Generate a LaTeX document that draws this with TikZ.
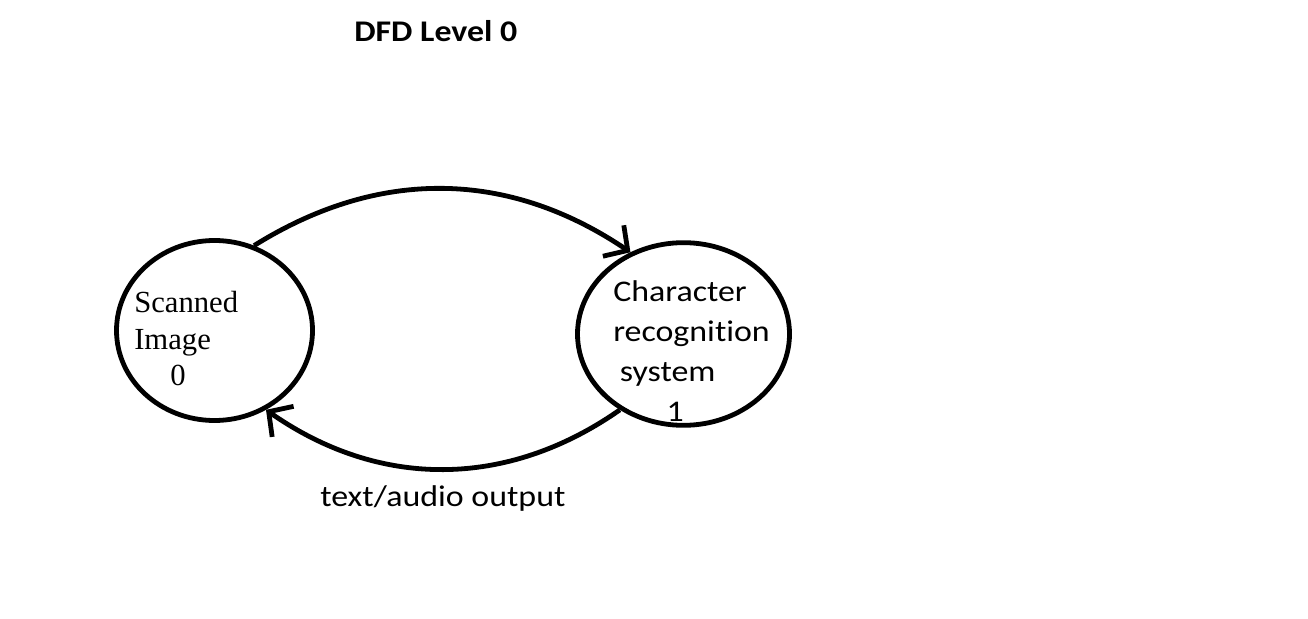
\documentclass[tikz,border=0pt]{standalone}
\usepackage{fontspec}
\setmainfont{Liberation Serif}
\newfontfamily\calib[FakeStretch=1.13, Ligatures=NoCommon]{Carlito}
\usetikzlibrary{shapes.geometric,arrows.meta}

\begin{document}
\begin{tikzpicture}[x=0.75pt, y=0.75pt, every node/.style={inner sep=0pt},
  process/.style={draw, ellipse, line width=3.6pt},
  flow/.style={line width=3.6pt, -{Straight Barb[length=13pt,width=28pt]}}]
\useasboundingbox (0,0) rectangle (1308,618);

\node (title) [anchor=base west, font=\calib\bfseries\fontsize{22.5}{27}\selectfont] at (354,576) {DFD Level 0};

\node (scan) [process, minimum width=147pt, minimum height=135pt] at (214.5,287.5) {};
\node (crs) [process, minimum width=159pt, minimum height=137pt] at (683.5,284) {};

\node (scanlabel) [anchor=north west, align=left, font=\fontsize{23}{27.4}\selectfont] at (134,327) {Scanned\\Image\\\hspace*{27pt}0};
\node (crslabel) [anchor=north west, align=left, font=\calib\fontsize{22.5}{30}\selectfont] at (613,338) {Character\\recognition\\\hspace*{5pt}system\\\hspace*{40pt}1};

\draw[flow] (scan.65) to[bend left=33] (crs.123.6);
\draw[flow] (crs.230) to[bend left=35] node[below=10.5pt, font=\calib\fontsize{22.5}{27}\selectfont] (output) {text/audio output} (scan.-57);
\end{tikzpicture}
\end{document}
